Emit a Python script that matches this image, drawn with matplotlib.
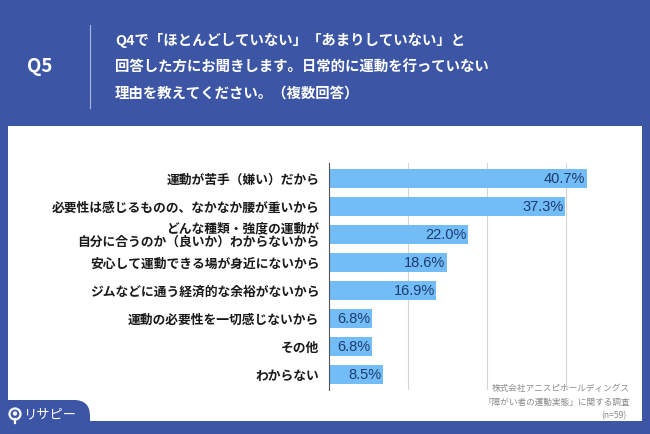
import matplotlib
matplotlib.use('Agg')
import matplotlib.pyplot as plt
from matplotlib.patches import Rectangle, FancyBboxPatch, Circle
import numpy as np

plt.rcParams['font.family'] = ['Noto Sans CJK JP', 'DejaVu Sans']

categories = [
    '運動が苦手（嫌い）だから',
    '必要性は感じるものの、なかなか腰が重いから',
    'どんな種類・強度の運動が\n自分に合うのか（良いか）わからないから',
    '安心して運動できる場が身近にないから',
    'ジムなどに通う経済的な余裕がないから',
    '運動の必要性を一切感じないから',
    'その他',
    'わからない',
]
values = [40.7, 37.3, 22.0, 18.6, 16.9, 6.8, 6.8, 8.5]
grid_ticks = [12.5, 25, 37.5]

title_lines = [
    'Q4で「ほとんどしていない」「あまりしていない」と',
    '回答した方にお聞きします。日常的に運動を行っていない',
    '理由を教えてください。（複数回答）',
]
source_lines = ['株式会社アニスピホールディングス', '「障がい者の運動実態」に関する調査', '(n=59)']

BLUE = '#3c56a5'
BAR = '#72bdf7'
LABEL = '#1e3a6e'

W, H = 650, 434
fig = plt.figure(figsize=(W / 100, H / 100), dpi=100)
fig.patch.set_facecolor(BLUE)

# background layer in pixel coords
bg = fig.add_axes([0, 0, 1, 1])
bg.set_xlim(0, W)
bg.set_ylim(H, 0)
bg.axis('off')
bg.add_patch(Rectangle((8, 126), 634, 295, facecolor='white', edgecolor='none'))
bg.add_patch(FancyBboxPatch((-40, 400), 130, 60, boxstyle='round,pad=0,rounding_size=16',
                            facecolor=BLUE, edgecolor='none'))

# header
bg.text(40, 67, 'Q5', color='white', fontsize=13.5, fontweight='bold', ha='center', va='center')
bg.plot([90, 90], [25, 108], color='#aab6dd', lw=0.8)
for i, line in enumerate(title_lines):
    bg.text(115, 40 + i * 27, line, color='white', fontsize=10.4, fontweight='bold',
            ha='left', va='center')

# logo
bg.add_patch(Circle((15, 414), 5.5, facecolor='none', edgecolor='white', lw=1.6))
bg.add_patch(Circle((15, 413.5), 2.2, facecolor='white', edgecolor='none'))
bg.plot([15, 15], [419, 423], color='white', lw=1.6)
bg.text(23, 415, 'リサピー', color='white', fontsize=9.5, ha='left', va='center')

# source
for i, line in enumerate(source_lines):
    bg.text(630 if i < 2 else 626, 389 + i * 13.5, line, color='#8a8a8a', fontsize=6.2,
            ha='right', va='center')

# bar chart
ax = fig.add_axes([329 / W, 1 - 390 / H, (645.5 - 329) / W, (390 - 163) / H])
ax.set_facecolor('none')
y = np.arange(len(categories))
ax.barh(y, values, height=0.68, color=BAR, zorder=2)
ax.set_xlim(0, 50)
ax.set_ylim(len(categories) - 0.45, -0.55)
ax.set_xticks(grid_ticks)
ax.xaxis.grid(True, color='#d4d4d4', lw=0.8, zorder=0)
ax.tick_params(axis='both', length=0, labelbottom=False)
ax.set_yticks(y)
ax.set_yticklabels(categories, fontsize=9.2, fontweight='bold', color='#1a1a1a',
                   linespacing=1.0)
ax.tick_params(axis='y', pad=7)
for s in ['top', 'right', 'bottom']:
    ax.spines[s].set_visible(False)
ax.spines['left'].set_color('#555555')
ax.spines['left'].set_linewidth(0.8)
for yi, v in zip(y, values):
    ax.text(v - 0.2, yi + 0.03, f'{v:.1f}%', ha='right', va='center', fontsize=10.5,
            family=['Liberation Sans', 'DejaVu Sans'], color=LABEL, zorder=3)

fig.savefig('out.png', dpi=100, facecolor=fig.get_facecolor())
